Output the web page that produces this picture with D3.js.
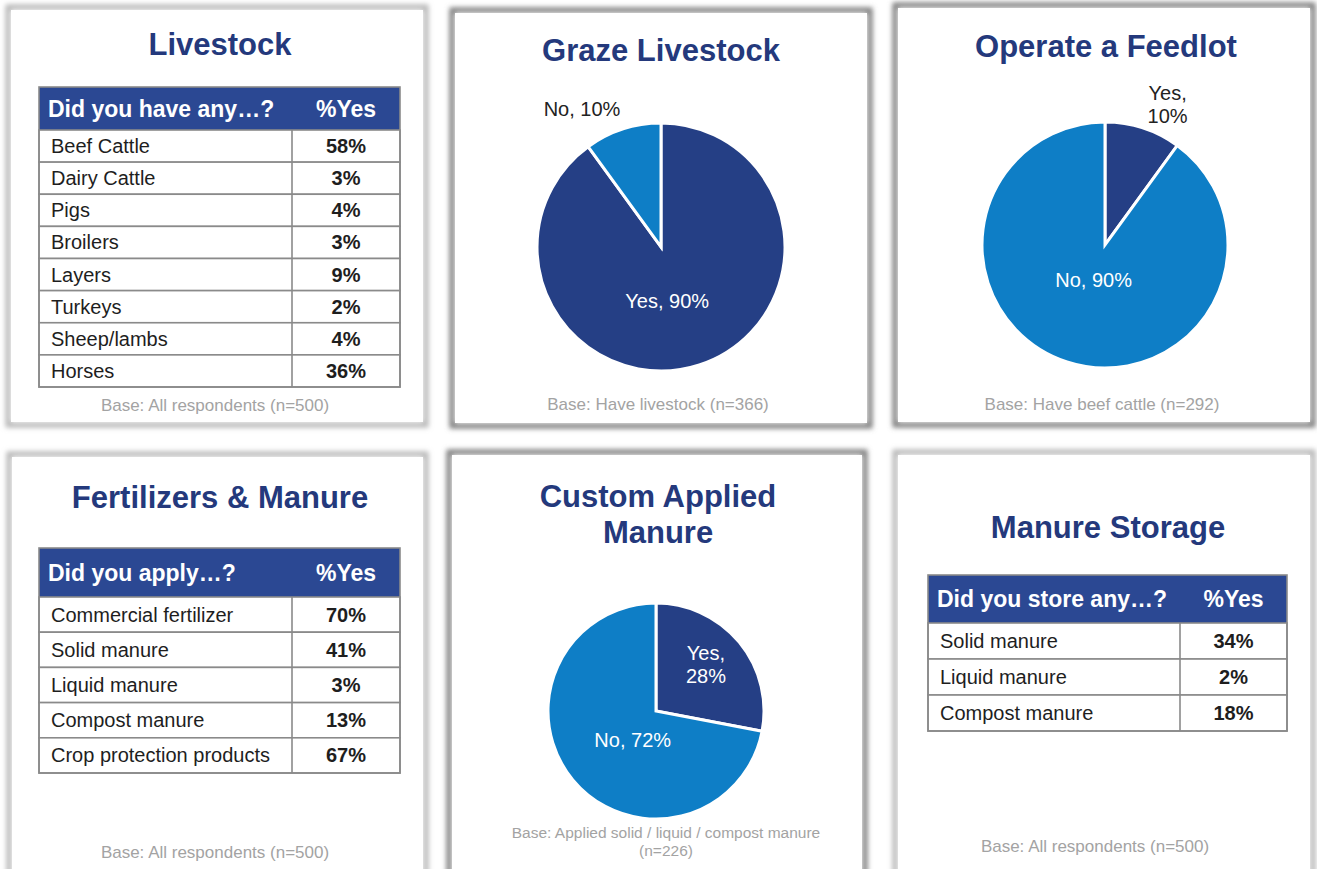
<!DOCTYPE html>
<html>
<head>
<meta charset="utf-8">
<script src="https://cdn.jsdelivr.net/npm/d3@7"></script>
<style>
  html, body { margin: 0; padding: 0; background: #ffffff; }
  svg { display: block; font-family: "Liberation Sans", Arial, sans-serif; }
</style>
</head>
<body>
<svg id="chart" width="1317" height="869"></svg>
<script>
// ---------------- DATA ----------------
const livestockItems = ["Beef Cattle", "Dairy Cattle", "Pigs", "Broilers", "Layers", "Turkeys", "Sheep/lambs", "Horses"];
const livestockValues = [58, 3, 4, 3, 9, 2, 4, 36];

const fertilizerItems = ["Commercial fertilizer", "Solid manure", "Liquid manure", "Compost manure", "Crop protection products"];
const fertilizerValues = [70, 41, 3, 13, 67];

const storageItems = ["Solid manure", "Liquid manure", "Compost manure"];
const storageValues = [34, 2, 18];

const pieCategories = ["Yes", "No"];
const grazeValues = [90, 10];
const feedlotValues = [10, 90];
const customValues = [28, 72];

const panelTitles = ["Livestock", "Graze Livestock", "Operate a Feedlot", "Fertilizers & Manure", "Custom Applied Manure", "Manure Storage"];
const baseNotes = [
  "Base: All respondents (n=500)",
  "Base: Have livestock (n=366)",
  "Base: Have beef cattle (n=292)",
  "Base: All respondents (n=500)",
  "Base: Applied solid / liquid / compost manure",
  "Base: All respondents (n=500)"
];

// ---------------- STYLE ----------------
const TITLE = "#24397c";
const HEADER = "#2b4893";
const DARK = "#253f85";
const LIGHT = "#0e7ec6";
const GRID = "#8a8a8a";
const BODY = "#1e1e1e";
const NOTE = "#a3a3a3";

const svg = d3.select("#chart");
const defs = svg.append("defs");
defs.append("filter").attr("id", "blur").attr("x", "-10%").attr("y", "-10%").attr("width", "120%").attr("height", "120%")
  .append("feGaussianBlur").attr("stdDeviation", 2.6);

function panel(x, y, w, h, shade) {
  const g = svg.append("g");
  g.append("rect").attr("x", x - 3).attr("y", y - 3).attr("width", w + 6).attr("height", h + 6)
    .attr("fill", "none").attr("stroke", shade).attr("stroke-width", 5).attr("filter", "url(#blur)");
  g.append("rect").attr("x", x).attr("y", y).attr("width", w).attr("height", h).attr("fill", "#fff");
  return g;
}

function title(lines, cx, y0, lh) {
  const t = svg.append("text").attr("text-anchor", "middle").attr("fill", TITLE)
    .attr("font-size", 31).attr("font-weight", "bold");
  lines.forEach((l, i) => t.append("tspan").attr("x", cx).attr("y", y0 + i * lh).text(l));
}

function note(lines, cx, y0, size, lh) {
  const t = svg.append("text").attr("text-anchor", "middle").attr("fill", NOTE).attr("font-size", size);
  lines.forEach((l, i) => t.append("tspan").attr("x", cx).attr("y", y0 + i * lh).text(l));
}

function table(cfg) {
  const { items, values, header, x0, x1, xDiv, top, headBottom, bottom } = cfg;
  const g = svg.append("g");
  const y = d3.scaleBand().domain(items).range([headBottom, bottom]);
  g.append("rect").attr("x", x0).attr("y", top).attr("width", x1 - x0).attr("height", headBottom - top).attr("fill", HEADER);
  g.append("text").attr("x", x0 + 9).attr("y", (top + headBottom) / 2 + 8)
    .attr("fill", "#fff").attr("font-weight", "bold").attr("font-size", 23).text(header);
  g.append("text").attr("x", (xDiv + x1) / 2).attr("y", (top + headBottom) / 2 + 8).attr("text-anchor", "middle")
    .attr("fill", "#fff").attr("font-weight", "bold").attr("font-size", 23).text("%Yes");
  const rows = g.selectAll("g.row").data(items.map((d, i) => ({ item: d, value: values[i] })))
    .join("g").attr("class", "row");
  rows.append("rect").attr("x", x0).attr("y", d => y(d.item)).attr("width", x1 - x0).attr("height", y.bandwidth())
    .attr("fill", "#fff").attr("stroke", GRID).attr("stroke-width", 1.6);
  rows.append("text").attr("x", x0 + 12).attr("y", d => y(d.item) + y.bandwidth() / 2 + 7)
    .attr("fill", BODY).attr("font-size", 20).text(d => d.item);
  rows.append("text").attr("x", (xDiv + x1) / 2).attr("y", d => y(d.item) + y.bandwidth() / 2 + 7)
    .attr("text-anchor", "middle").attr("fill", BODY).attr("font-size", 20).attr("font-weight", "bold")
    .text(d => d.value + "%");
  g.append("line").attr("x1", xDiv).attr("x2", xDiv).attr("y1", headBottom).attr("y2", bottom)
    .attr("stroke", GRID).attr("stroke-width", 1.6);
  g.append("rect").attr("x", x0).attr("y", top).attr("width", x1 - x0).attr("height", bottom - top)
    .attr("fill", "none").attr("stroke", GRID).attr("stroke-width", 1.6);
}

function pie(cfg) {
  const { values, cx, cy, r, labels } = cfg;
  const data = pieCategories.map((c, i) => ({ cat: c, value: values[i] }));
  const arcs = d3.pie().sort(null).value(d => d.value)(data);
  const color = d3.scaleOrdinal().domain(pieCategories).range([DARK, LIGHT]);
  const arc = d3.arc().innerRadius(0).outerRadius(r);
  const g = svg.append("g").attr("transform", `translate(${cx},${cy})`);
  g.selectAll("path").data(arcs).join("path").attr("d", arc)
    .attr("fill", d => color(d.data.cat)).attr("stroke", "#fff").attr("stroke-width", 3).attr("stroke-linejoin", "miter");
  arcs.forEach(a => {
    const L = labels[a.data.cat];
    const la = d3.arc().innerRadius(r * L.k).outerRadius(r * L.k);
    const [lx, ly] = la.centroid(a);
    const lines = L.split ? [a.data.cat + ",", a.data.value + "%"] : [a.data.cat + ", " + a.data.value + "%"];
    const t = g.append("text").attr("text-anchor", "middle").attr("font-size", 20)
      .attr("fill", L.inside ? "#fff" : "#222");
    const lh = 23;
    const startY = ly + L.dy - (lines.length - 1) * lh / 2 + 7;
    lines.forEach((l, i) => t.append("tspan").attr("x", lx + L.dx).attr("y", startY + i * lh).text(l));
  });
}

// ---------------- PANELS ----------------
panel(11, 10, 412, 412, "#b5b5b5");
panel(455, 13, 412, 410, "#7a7a7a");
panel(898, 8, 412, 414, "#7a7a7a");
panel(12, 457, 411, 425, "#b5b5b5");
panel(452, 455, 410, 425, "#7a7a7a");
panel(898, 455, 412, 425, "#b5b5b5");

// Panel 1: Livestock
title([panelTitles[0]], 220, 55, 0);
table({ items: livestockItems, values: livestockValues, header: "Did you have any\u2026?",
        x0: 39, x1: 400, xDiv: 292, top: 87, headBottom: 130, bottom: 387 });
note([baseNotes[0]], 215, 411, 17, 0);

// Panel 2: Graze Livestock
title([panelTitles[1]], 661, 61, 0);
pie({ values: grazeValues, cx: 661, cy: 247, r: 124,
      labels: { Yes: { k: 0.45, dx: -11, dy: 1, inside: true },
                No: { k: 1.2, dx: -33, dy: 4, inside: false } } });
note([baseNotes[1]], 658, 410, 17, 0);

// Panel 3: Operate a Feedlot
title([panelTitles[2]], 1106, 57, 0);
pie({ values: feedlotValues, cx: 1105, cy: 245, r: 123,
      labels: { Yes: { k: 1.2, dx: 17, dy: 0, inside: false, split: true },
                No: { k: 0.3, dx: 0, dy: 0, inside: true } } });
note([baseNotes[2]], 1102, 410, 17, 0);

// Panel 4: Fertilizers & Manure
title([panelTitles[3]], 220, 508, 0);
table({ items: fertilizerItems, values: fertilizerValues, header: "Did you apply\u2026?",
        x0: 39, x1: 400, xDiv: 292, top: 548, headBottom: 597, bottom: 773 });
note([baseNotes[3]], 215, 858, 17, 0);

// Panel 5: Custom Applied Manure
title(["Custom Applied", "Manure"], 658, 507, 36);
pie({ values: customValues, cx: 656, cy: 711, r: 108,
      labels: { Yes: { k: 0.6, dx: 0, dy: -5, inside: true, split: true },
                No: { k: 0.34, dx: 5, dy: 6, inside: true } } });
note([baseNotes[4], "(n=226)"], 666, 838, 15.5, 18);

// Panel 6: Manure Storage
title([panelTitles[5]], 1108, 538, 0);
table({ items: storageItems, values: storageValues, header: "Did you store any\u2026?",
        x0: 928, x1: 1287, xDiv: 1180, top: 575, headBottom: 623, bottom: 731 });
note([baseNotes[5]], 1095, 852, 17, 0);
</script>
</body>
</html>
